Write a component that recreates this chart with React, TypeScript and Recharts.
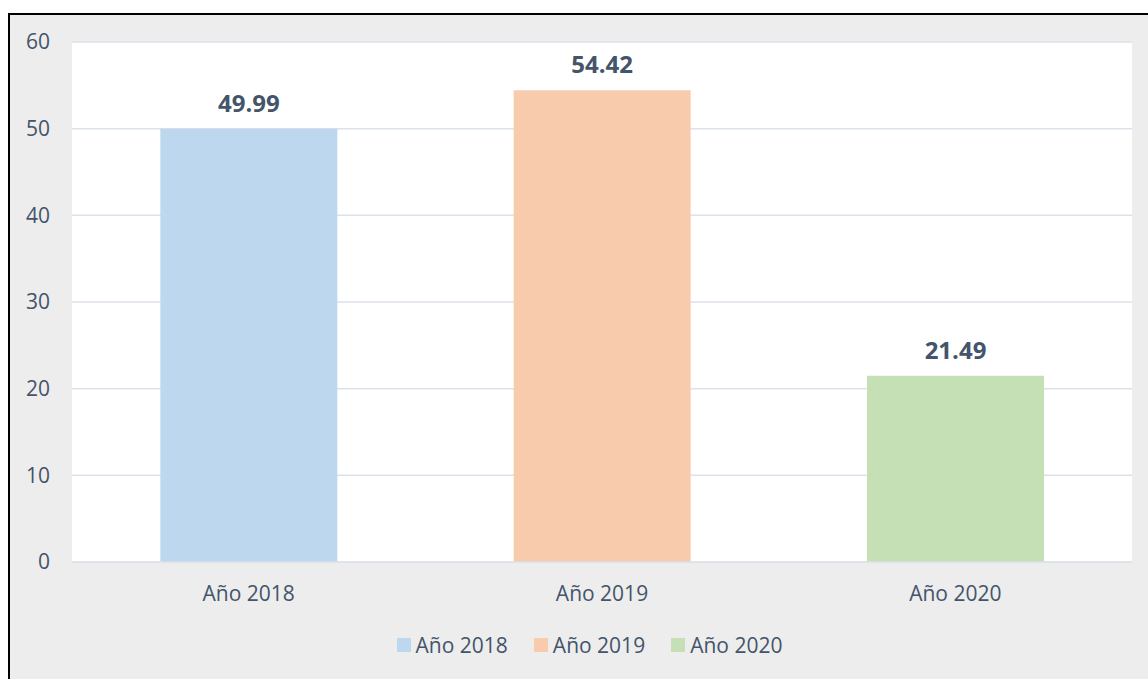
import React from "react";
import {
  BarChart,
  Bar,
  Cell,
  XAxis,
  YAxis,
  CartesianGrid,
  Legend,
  LabelList,
} from "recharts";

const CATEGORIES = ["Año 2018", "Año 2019", "Año 2020"];
const VALUES = [49.99, 54.42, 21.49];
const COLORS = ["#BDD7EE", "#F8CBAD", "#C5E0B4"];
const Y_TICKS = [0, 10, 20, 30, 40, 50, 60];

const data = CATEGORIES.map((name, i) => ({ name, value: VALUES[i] }));

const FONT = "'Open Sans', sans-serif";
const TEXT = "#44546A";

const LegendBox = () => (
  <div
    style={{
      display: "flex",
      justifyContent: "center",
      alignItems: "center",
      height: 30,
      paddingLeft: 37,
      fontFamily: FONT,
      fontSize: 21,
      color: TEXT,
    }}
  >
    {CATEGORIES.map((c, i) => (
      <div
        key={c}
        style={{
          display: "flex",
          alignItems: "center",
          marginRight: i < CATEGORIES.length - 1 ? 26 : 0,
        }}
      >
        <span
          style={{
            display: "inline-block",
            width: 14,
            height: 14,
            background: COLORS[i],
            marginRight: 5,
          }}
        />
        <span>{c}</span>
      </div>
    ))}
  </div>
);

export default function App() {
  return (
    <div
      style={{
        position: "fixed",
        left: 8,
        top: 13,
        width: 1140,
        height: 666,
        boxSizing: "border-box",
        borderTop: "2px solid #000",
        borderLeft: "2px solid #000",
        background: "#EDEDED",
      }}
    >
      <BarChart
        width={1138}
        height={664}
        data={data}
        margin={{ top: 27, right: 16, bottom: 19, left: 0 }}
        barCategoryGap="25%"
      >
        <CartesianGrid
          vertical={false}
          fill="#FFFFFF"
          stroke="#DCE2EA"
          strokeWidth={1.5}
        />
        <XAxis
          dataKey="name"
          height={68}
          axisLine={{ stroke: "#DCE2EA", strokeWidth: 1.5 }}
          tickLine={false}
          tickMargin={18}
          tick={{ fill: TEXT, fontSize: 21, fontFamily: FONT }}
        />
        <YAxis
          width={62}
          domain={[0, 60]}
          ticks={Y_TICKS}
          axisLine={false}
          tickLine={false}
          tickMargin={16}
          tick={{ fill: TEXT, fontSize: 21, fontFamily: FONT }}
        />
        <Legend verticalAlign="bottom" content={() => <LegendBox />} />
        <Bar dataKey="value" isAnimationActive={false}>
          {data.map((d, i) => (
            <Cell key={d.name} fill={COLORS[i]} />
          ))}
          <LabelList
            dataKey="value"
            position="top"
            offset={17}
            formatter={(v: number) => v.toFixed(2)}
            style={{
              fill: TEXT,
              fontSize: 24,
              fontWeight: 700,
              fontFamily: FONT,
            }}
          />
        </Bar>
      </BarChart>
    </div>
  );
}
